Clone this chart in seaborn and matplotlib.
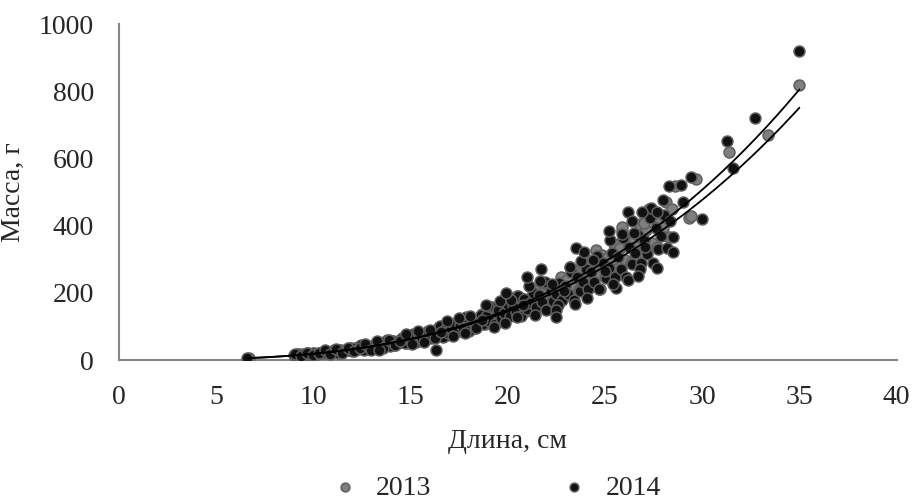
import numpy as np
import pandas as pd
import matplotlib
matplotlib.use("Agg")
import matplotlib.pyplot as plt
import seaborn as sns

# Length (cm) and mass (g) of fish, by sampling year
len_2013 = [6.7,
            9.1, 9.25, 9.4, 9.55, 9.7, 9.85, 10.0, 10.15, 10.3, 10.45, 10.6, 10.75, 10.9,
            11.05, 11.2, 11.35, 11.5, 11.65, 11.8, 11.95, 12.1, 12.25, 12.4, 12.55, 12.7,
            12.85, 13.0, 13.15, 13.3, 13.45, 13.6, 13.75, 13.9, 14.05, 14.2, 14.35, 14.5,
            14.65, 14.8, 14.95, 15.1, 15.25, 15.4, 15.55, 15.7, 15.85, 16.0, 16.15, 16.3,
            16.45, 16.6, 16.75, 16.9, 17.05, 17.2, 17.35, 17.5, 17.65, 17.8, 17.95, 18.1,
            18.25, 18.4, 18.55, 18.7, 18.85, 19.0, 19.15, 19.3, 19.45, 19.6, 19.75, 19.9,
            20.05, 20.2, 20.35, 20.5, 20.65, 20.8, 20.95, 21.1, 21.25, 21.4, 21.55, 21.7,
            21.85, 22.0, 22.15, 22.3, 22.45, 22.6, 22.75, 22.9, 23.05, 23.2, 23.35, 23.5,
            23.65, 23.8, 23.95, 24.1, 24.25, 24.4, 24.55, 24.7, 24.85, 25.0, 25.15, 25.3,
            25.45, 25.6, 25.75, 25.9, 26.05, 26.2, 26.35, 26.5, 26.65, 26.8, 26.95, 27.1,
            27.25, 27.4, 27.55, 27.7, 27.85, 28.0, 28.15, 28.3, 28.45, 28.6,
            25.9, 27.0, 29.3, 29.4, 29.7, 31.4, 33.4, 35.0]
mass_2013 = [6,
             13, 17, 13, 17, 20, 16, 20, 17, 21, 20, 25, 20, 25,
             30, 24, 30, 24, 31, 29, 36, 29, 36, 42, 33, 42,
             34, 43, 41, 50, 39, 49, 58, 45, 56, 45, 57, 54,
             66, 52, 65, 76, 60, 74, 59, 75, 71, 86, 68, 85,
             99, 77, 95, 76, 96, 91, 110, 87, 108, 125, 98, 120,
             96, 121, 114, 138, 108, 134, 156, 122, 149, 119, 149, 141,
             170, 133, 165, 191, 149, 183, 145, 182, 171, 206, 162, 200,
             231, 180, 221, 175, 219, 206, 248, 194, 239, 277, 215, 264,
             209, 261, 245, 295, 231, 284, 328, 255, 312, 247, 308, 289,
             347, 271, 334, 385, 299, 365, 289, 360, 338, 405, 316, 389,
             449, 348, 425, 336, 418, 392, 470, 366, 450, 519,
             395, 408, 424, 428, 541, 621, 670, 820]

len_2014 = [6.6,
            9.0, 9.15, 9.3, 9.45, 9.6, 9.75, 9.9, 10.05, 10.2, 10.35, 10.5, 10.65, 10.8,
            10.95, 11.1, 11.25, 11.4, 11.55, 11.7, 11.85, 12.0, 12.15, 12.3, 12.45, 12.6,
            12.75, 12.9, 13.05, 13.2, 13.35, 13.5, 13.65, 13.8, 13.95, 14.1, 14.25, 14.4,
            14.55, 14.7, 14.85, 15.0, 15.15, 15.3, 15.45, 15.6, 15.75, 15.9, 16.05, 16.2,
            16.35, 16.5, 16.65, 16.8, 16.95, 17.1, 17.25, 17.4, 17.55, 17.7, 17.85, 18.0,
            18.15, 18.3, 18.45, 18.6, 18.75, 18.9, 19.05, 19.2, 19.35, 19.5, 19.65, 19.8,
            19.95, 20.1, 20.25, 20.4, 20.55, 20.7, 20.85, 21.0, 21.15, 21.3, 21.45, 21.6,
            21.75, 21.9, 22.05, 22.2, 22.35, 22.5, 22.65, 22.8, 22.95, 23.1, 23.25, 23.4,
            23.55, 23.7, 23.85, 24.0, 24.15, 24.3, 24.45, 24.6, 24.75, 24.9, 25.05, 25.2,
            25.35, 25.5, 25.65, 25.8, 25.95, 26.1, 26.25, 26.4, 26.55, 26.7, 26.85, 27.0,
            27.15, 27.3, 27.45, 27.6, 27.75, 27.9, 28.05, 28.2, 28.35, 28.5,
            9.08, 9.38, 9.68, 9.98, 10.28, 10.58, 10.88, 11.18, 11.48, 11.78, 12.08, 12.38,
            12.68, 12.98, 13.28, 13.58, 13.88, 14.18, 14.48, 14.78, 15.08, 15.38, 15.68,
            15.98, 16.28, 16.58, 16.88, 17.18, 17.48, 17.78, 18.08, 18.38, 18.68, 18.98,
            19.28, 19.58, 19.88, 20.18, 20.48, 20.78, 21.08, 21.38, 21.68, 21.98, 22.28,
            22.58, 22.88, 23.18, 23.48, 23.78, 24.08, 24.38, 24.68, 24.98, 25.28, 25.58,
            25.88, 26.18, 26.48, 26.78, 27.08, 27.38, 27.68, 27.98,
            13.4, 16.3, 18.9, 19.9, 21.0, 21.7, 22.5, 22.5, 23.5, 23.9, 25.2, 25.4,
            26.2, 26.4, 26.7, 26.9, 27.7, 28.3, 28.5, 28.9, 29.0, 29.4, 30.0, 31.3,
            31.6, 32.7, 35.0]
mass_2014 = [5,
             14, 17, 13, 17, 16, 21, 15, 21, 18, 21, 25, 20, 25,
             23, 31, 22, 31, 26, 30, 36, 28, 36, 32, 44, 31,
             42, 36, 41, 49, 39, 49, 44, 60, 41, 57, 49, 55,
             66, 52, 65, 58, 78, 54, 75, 64, 72, 85, 67, 83,
             75, 101, 69, 96, 81, 92, 108, 85, 106, 94, 127, 87,
             120, 102, 115, 135, 106, 132, 117, 157, 108, 148, 126, 141,
             166, 130, 161, 143, 192, 132, 181, 153, 171, 201, 157, 195,
             173, 232, 151, 206, 175, 196, 229, 179, 221, 197, 263, 180,
             246, 207, 233, 272, 212, 262, 233, 311, 213, 290, 243, 273,
             318, 248, 307, 272, 363, 248, 338, 285, 318, 372, 290, 358,
             316, 422, 288, 392, 331, 369, 431, 335, 414, 366,
             18, 12, 21, 16, 21, 29, 18, 34, 22, 37, 27, 35,
             49, 31, 56, 36, 60, 44, 56, 78, 48, 86, 55,
             90, 66, 84, 115, 71, 125, 80, 130, 94, 119, 162,
             99, 175, 111, 179, 129, 163, 221, 134, 236, 150, 228,
             164, 205, 278, 168, 295, 186, 297, 213, 266, 357, 216,
             377, 238, 379, 271, 337, 453, 274, 476,
             30, 30, 164, 200, 248, 271, 148, 129, 333, 321, 384, 228,
             441, 415, 250, 441, 440, 519, 323, 521, 470, 545, 420, 654,
             572, 722, 920]

years = ["2013", "2014"]
fills = {"2013": "#7f7f7f", "2014": "#111111"}

df = pd.concat([
    pd.DataFrame({"Длина": len_2013, "Масса": mass_2013, "Год": "2013"}),
    pd.DataFrame({"Длина": len_2014, "Масса": mass_2014, "Год": "2014"}),
], ignore_index=True)

sns.set_theme(style="white")
plt.rcParams["font.family"] = ["Liberation Serif", "DejaVu Serif"]

fig = plt.figure(figsize=(9.14, 5.01), dpi=100)
ax = fig.add_axes([0.130, 0.2814, 0.851, 0.6697])

for yr in years:
    sub = df[df["Год"] == yr]
    sns.scatterplot(data=sub, x="Длина", y="Масса", ax=ax, color=fills[yr],
                    edgecolor="#5e5e5e", linewidth=1.1, s=62, label=yr, zorder=3)

# Power trend lines W = a * L^b, fitted on the log-log scale for each year
for yr in years:
    sub = df[df["Год"] == yr]
    b, ln_a = np.polyfit(np.log(sub["Длина"]), np.log(sub["Масса"]), 1)
    xs = np.linspace(sub["Длина"].min(), sub["Длина"].max(), 200)
    sns.lineplot(x=xs, y=np.exp(ln_a) * xs ** b, ax=ax, color="black",
                 linewidth=1.3, zorder=4, legend=False)

ax.set_xlim(0, 40)
ax.set_ylim(0, 1000)
ax.set_xticks(range(0, 41, 5))
ax.set_yticks(range(0, 1001, 200))
ax.set_xlabel("Длина, см", fontsize=20, labelpad=14)
ax.set_ylabel("Масса, г", fontsize=20, labelpad=9)
ax.tick_params(axis="both", labelsize=20, direction="in", length=8, width=1.2,
               color="#868686")
ax.tick_params(axis="x", pad=18)
ax.tick_params(axis="y", pad=18)

for side in ["top", "right"]:
    ax.spines[side].set_visible(False)
for side in ["left", "bottom"]:
    ax.spines[side].set_color("#868686")
    ax.spines[side].set_linewidth(1.5)

handles, labels = ax.get_legend_handles_labels()
ax.get_legend().remove()
fig.legend(handles, labels, loc="center", bbox_to_anchor=(497 / 914, 1 - 488 / 501),
           ncol=2, frameon=False, fontsize=20, columnspacing=4.75,
           handlelength=0.8, handletextpad=0.72, markerscale=0.8,
           borderpad=0, borderaxespad=0)

fig.savefig("out.png", dpi=100)
